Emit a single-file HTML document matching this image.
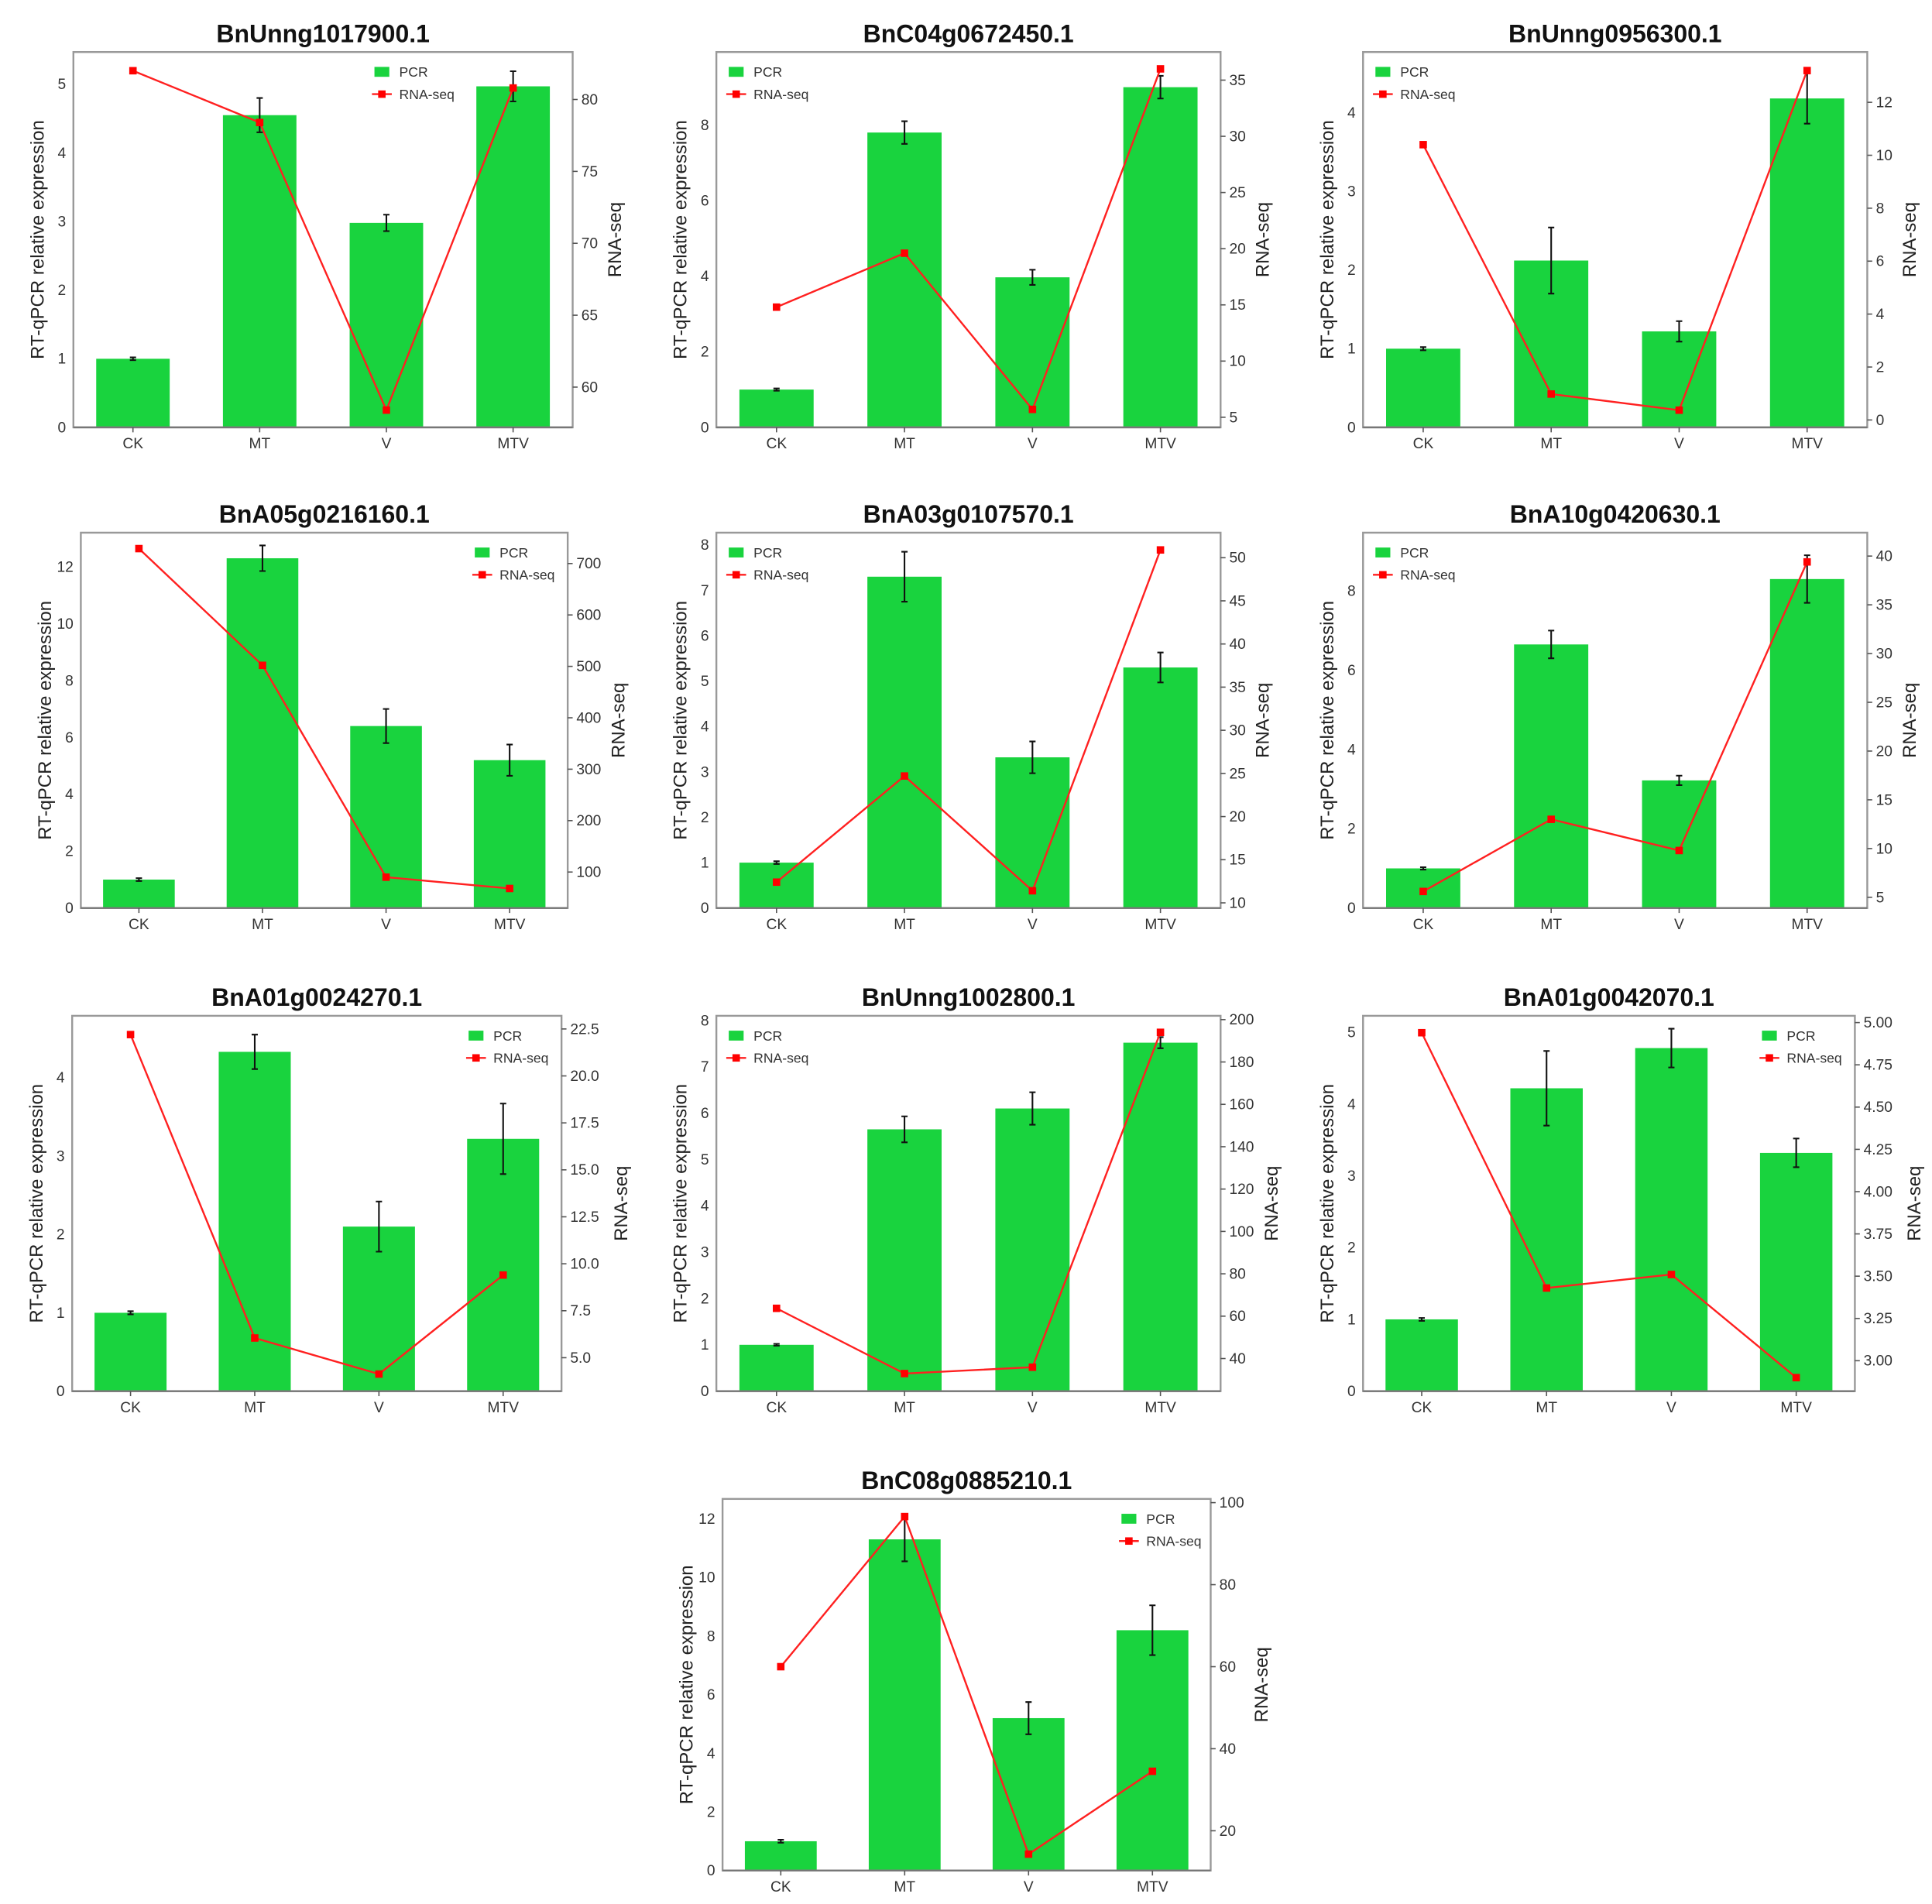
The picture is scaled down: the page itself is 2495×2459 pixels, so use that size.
<!DOCTYPE html>
<html><head><meta charset="utf-8">
<style>
html,body{margin:0;padding:0;background:#fff;}
svg{display:block;font-family:"Liberation Sans",Arial,sans-serif;}
</style></head>
<body>
<svg id="fig" width="2495" height="2459" viewBox="0 0 1559 1537" xmlns="http://www.w3.org/2000/svg"></svg>
<script>
const categories = ["CK","MT","V","MTV"];
const titles = ["BnUnng1017900.1","BnC04g0672450.1","BnUnng0956300.1","BnA05g0216160.1","BnA03g0107570.1","BnA10g0420630.1","BnA01g0024270.1","BnUnng1002800.1","BnA01g0042070.1","BnC08g0885210.1"];
const pcr1=[1,4.55,2.98,4.97], err1=[0.02,0.25,0.12,0.22], rna1=[82.0,78.4,58.4,80.8];
const pcr2=[1,7.8,3.97,9.0], err2=[0.03,0.3,0.2,0.3], rna2=[14.8,19.6,5.7,36.0];
const pcr3=[1,2.12,1.22,4.18], err3=[0.02,0.42,0.13,0.32], rna3=[10.4,0.98,0.37,13.2];
const pcr4=[1,12.3,6.4,5.2], err4=[0.05,0.45,0.6,0.55], rna4=[729,502,90,68];
const pcr5=[1,7.3,3.32,5.3], err5=[0.03,0.55,0.35,0.33], rna5=[12.4,24.7,11.4,50.9];
const pcr6=[1,6.65,3.22,8.3], err6=[0.03,0.35,0.12,0.6], rna6=[5.6,13.0,9.8,39.4];
const pcr7=[1,4.33,2.1,3.22], err7=[0.02,0.22,0.32,0.45], rna7=[22.2,6.05,4.13,9.4];
const pcr8=[1,5.65,6.1,7.52], err8=[0.02,0.28,0.35,0.12], rna8=[63.7,32.9,35.9,194];
const pcr9=[1,4.22,4.78,3.32], err9=[0.02,0.52,0.27,0.2], rna9=[4.94,3.43,3.51,2.9];
const pcr10=[1,11.3,5.2,8.2], err10=[0.05,0.75,0.55,0.85], rna10=[60,96.6,14.3,34.5];
const leftTicks=[[0,1,2,3,4,5],[0,2,4,6,8],[0,1,2,3,4],[0,2,4,6,8,10,12],[0,1,2,3,4,5,6,7,8],[0,2,4,6,8],[0,1,2,3,4],[0,1,2,3,4,5,6,7,8],[0,1,2,3,4,5],[0,2,4,6,8,10,12]];
const rightTicks=[["60","65","70","75","80"],["5","10","15","20","25","30","35"],["0","2","4","6","8","10","12"],["100","200","300","400","500","600","700"],["10","15","20","25","30","35","40","45","50"],["5","10","15","20","25","30","35","40"],["5.0","7.5","10.0","12.5","15.0","17.5","20.0","22.5"],["40","60","80","100","120","140","160","180","200"],["3.00","3.25","3.50","3.75","4.00","4.25","4.50","4.75","5.00"],["20","40","60","80","100"]];
const leftRange=[[0,5.47],[0,9.93],[0,4.77],[0,13.2],[0,8.27],[0,9.47],[0,4.79],[0,8.1],[0,5.23],[0,12.68]];
const rightRange=[[57.2,83.3],[4.1,37.5],[-0.28,13.9],[30,760],[9.4,52.9],[3.9,42.4],[3.22,23.2],[24.6,201.8],[2.82,5.04],[10.3,100.9]];
const pcrs=[pcr1,pcr2,pcr3,pcr4,pcr5,pcr6,pcr7,pcr8,pcr9,pcr10];
const errs=[err1,err2,err3,err4,err5,err6,err7,err8,err9,err10];
const rnas=[rna1,rna2,rna3,rna4,rna5,rna6,rna7,rna8,rna9,rna10];
const boxes=[[59,42,462,345],[578,42,985,345],[1100,42,1507,345],[65,430,458,733],[578,430,985,733],[1100,430,1507,733],[58,820,453,1123],[578,820,985,1123],[1100,820,1497,1123],[583,1210,977,1510]];
const legendOffset=[162,0,0,77,0,0,77,0,77,74];

const NS="http://www.w3.org/2000/svg";
const svg=document.getElementById('fig');
function mk(tag,attrs,parent,text){const e=document.createElementNS(NS,tag);for(const k in attrs)e.setAttribute(k,attrs[k]);if(text!==undefined)e.textContent=text;parent.appendChild(e);return e;}

for(let c=0;c<10;c++){
  const [x0,y0,x1,y1]=boxes[c];
  const g=mk('g',{},svg);
  
  
  const yl=v=>y1-(v-leftRange[c][0])/(leftRange[c][1]-leftRange[c][0])*(y1-y0);
  const yr=v=>y1-(v-rightRange[c][0])/(rightRange[c][1]-rightRange[c][0])*(y1-y0);
  const step=(x1-x0)/3.94;
  const xc=i=>x0+step*(0.47+i);
  const bw=step*0.58;
  const t=mk('text',{x:(x0+x1)/2,y:y0-8,'text-anchor':'middle','font-size':20,'font-weight':'bold',fill:'#111'},g,titles[c]);
  
  
  for(let i=0;i<4;i++){
    const b=mk('rect',{x:xc(i)-bw/2,y:yl(pcrs[c][i]),width:bw,height:y1-yl(pcrs[c][i]),fill:'#19d33e'},g);
    
    
    const top=yl(pcrs[c][i]+errs[c][i]),bot=yl(pcrs[c][i]-errs[c][i]);
    const e=mk('path',{d:`M${xc(i)},${top}V${bot}M${xc(i)-2.5},${top}h5M${xc(i)-2.5},${bot}h5`,stroke:'#111','stroke-width':1.3,fill:'none'},g);
    
    
  }
  const pts=rnas[c].map((v,i)=>xc(i)+','+yr(v)).join(' ');
  const ln=mk('polyline',{points:pts,fill:'none',stroke:'#ff2020','stroke-width':1.5},g);
  
  
  rnas[c].forEach((v,i)=>{
    const m=mk('rect',{x:xc(i)-3,y:yr(v)-3,width:6,height:6,fill:'#ff0000'},g);
    
    
  });
  const f=mk('rect',{x:x0,y:y0,width:x1-x0,height:y1-y0,fill:'none',stroke:'#999','stroke-width':1.5},g);
  
  
  mk('line',{x1:x0,y1:y1,x2:x1,y2:y1,stroke:'#777','stroke-width':1.5},g);
  categories.forEach((k,i)=>{
    mk('line',{x1:xc(i),y1:y1,x2:xc(i),y2:y1+4,stroke:'#555'},g);
    const tl=mk('text',{x:xc(i),y:y1+17,'text-anchor':'middle','font-size':12,fill:'#333'},g,k);
    
    
  });
  leftTicks[c].forEach(v=>{
    const tl=mk('text',{x:x0-6,y:yl(v)+4,'text-anchor':'end','font-size':12,fill:'#333'},g,String(v));
    
    
  });
  rightTicks[c].forEach(s=>{
    const v=parseFloat(s);
    mk('line',{x1:x1,y1:yr(v),x2:x1+4,y2:yr(v),stroke:'#555'},g);
    const tl=mk('text',{x:x1+7,y:yr(v)+4,'text-anchor':'start','font-size':12,fill:'#333'},g,s);
    
    
  });
  const ym=(y0+y1)/2;
  const la=mk('text',{x:0,y:0,transform:`translate(${x0-24},${ym}) rotate(-90)`,'text-anchor':'middle','font-size':15,fill:'#222'},g,'RT-qPCR relative expression');
  
  
  const rw=rightTicks[c][rightTicks[c].length-1].length*7;
  const ra=mk('text',{x:0,y:0,transform:`translate(${x1+rw+25},${ym}) rotate(-90)`,'text-anchor':'middle','font-size':15,fill:'#222'},g,'RNA-seq');
  
  
  const lx=legendOffset[c]?x1-legendOffset[c]:x0+8, ly=y0+10;
  const lg=mk('g',{},g);
  
  
  mk('rect',{x:lx+2,y:ly+2,width:12,height:8,fill:'#19d33e'},lg);
  mk('text',{x:lx+22,y:ly+10,'font-size':11,fill:'#333'},lg,'PCR');
  mk('line',{x1:lx,y1:ly+24,x2:lx+16,y2:ly+24,stroke:'#ff2020','stroke-width':1.5},lg);
  mk('rect',{x:lx+5,y:ly+21,width:6,height:6,fill:'#ff0000'},lg);
  mk('text',{x:lx+22,y:ly+28,'font-size':11,fill:'#333'},lg,'RNA-seq');
}
</script>
</body></html>
